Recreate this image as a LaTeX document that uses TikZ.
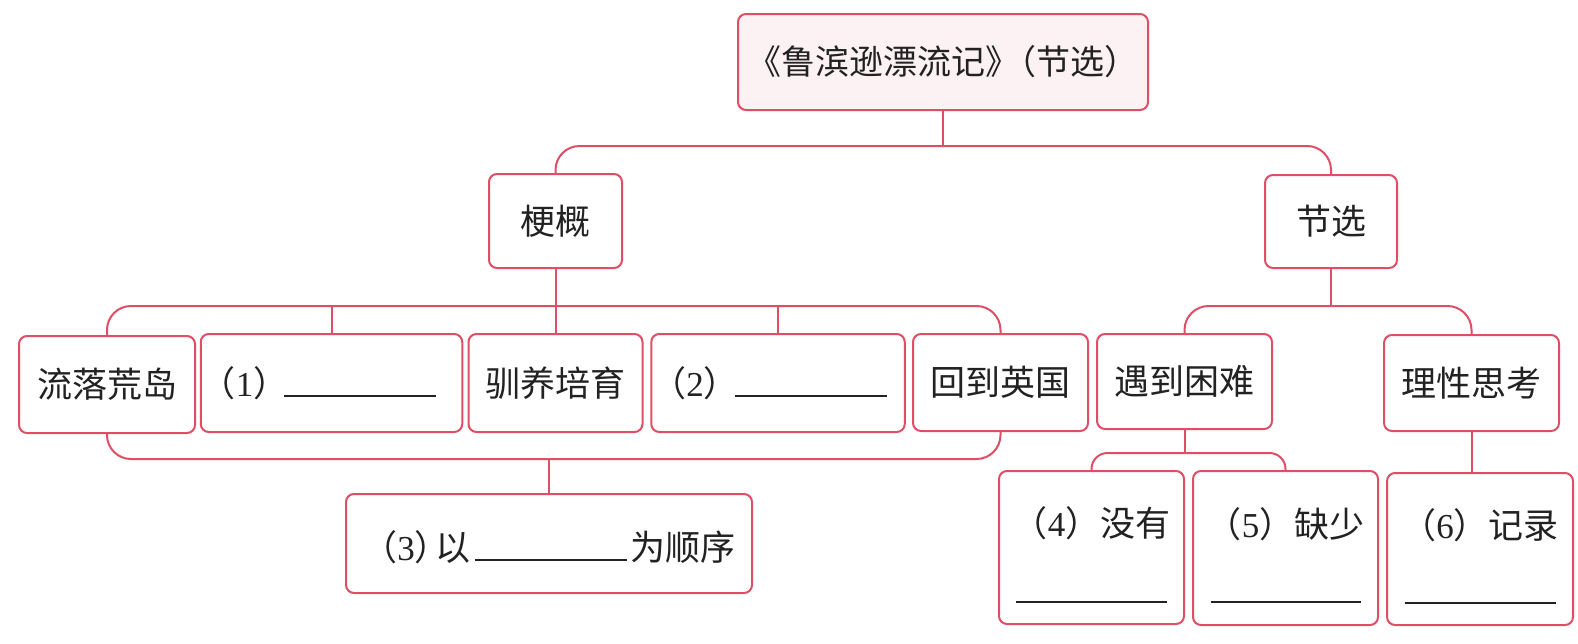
\documentclass[tikz,border=0pt]{standalone}
\usepackage{fontspec}
\setmainfont{Noto Sans CJK SC}
\newfontfamily\numfont{Liberation Serif}
\newcommand\numd[1]{{\numfont #1}}
\definecolor{lc}{HTML}{E04E66}
\definecolor{tfill}{HTML}{FCF1F3}
\definecolor{txt}{HTML}{222222}
\begin{document}
\begin{tikzpicture}[x=0.5pt,y=-0.5pt,
  box/.style={draw=lc, line width=1pt, rounded corners=4pt, inner sep=0pt,
    align=center, text=txt, font=\fontsize{17.5pt}{20pt}\selectfont},
  link/.style={draw=lc, line width=1pt},
  curvelink/.style={link, rounded corners=12pt},
  curvelinksm/.style={link, rounded corners=8pt}]
\fill[white] (0,0) rectangle (1578,643);
\useasboundingbox (0,0) rectangle (1578,643);

% nodes
\node[box, fill=tfill, minimum width=205pt, minimum height=48pt,
  font=\fontsize{17pt}{20pt}\selectfont] (title) at (943,62) {《鲁滨逊漂流记》\kern-0.5em（节选）};
\node[box, minimum width=66.5pt, minimum height=47pt] (gg) at (555.5,221) {梗概};
\node[box, minimum width=66pt, minimum height=46.5pt] (jx) at (1331,221.5) {节选};

\node[box, minimum width=88pt, minimum height=48.5pt] (a1) at (107,384.5) {流落荒岛};
\node[box, minimum width=127.5pt, minimum height=49pt] (a2) at (331.5,383)
  {（\numd{1}）\kern-2pt\rule[-0.5pt]{76pt}{1pt}\hspace*{13pt}};
\node[box, minimum width=87pt, minimum height=49pt] (a3) at (555.5,383) {驯养培育};
\node[box, minimum width=126pt, minimum height=49pt] (a4) at (778,383)
  {（\numd{2}）\kern-2pt\rule[-0.5pt]{76pt}{1pt}\hspace*{9pt}};
\node[box, minimum width=87.5pt, minimum height=48.5pt] (a5) at (1000.5,382.5) {回到英国};

\node[box, minimum width=87.5pt, minimum height=47.5pt] (b1) at (1184.5,381.5) {遇到困难};
\node[box, minimum width=87.5pt, minimum height=48pt] (b2) at (1471.5,383) {理性思考};

\node[box, minimum width=203pt, minimum height=49.5pt] (c3) at (549,543.5)
  {\rule{0pt}{19pt}（\numd{3}）\kern-0.4em 以\kern2pt\rule{76pt}{1pt}\kern2pt 为顺序};

\node[box, minimum width=92.5pt, minimum height=76.5pt] (d4) at (1091.5,547.5)
  {\rule{0pt}{22pt}（\numd{4}）没有\\[13pt]\rule{75.5pt}{1pt}};
\node[box, minimum width=92.5pt, minimum height=77pt] (d5) at (1285.5,548)
  {\rule{0pt}{22pt}（\numd{5}）缺少\\[13pt]\rule{75pt}{1pt}};
\node[box, minimum width=93pt, minimum height=76pt] (d6) at (1480,549)
  {\rule{0pt}{22pt}（\numd{6}）记录\\[13pt]\rule{75.5pt}{1pt}};

% junction points
\coordinate (t1) at (943,146);
\coordinate (t2) at (555.5,306);
\coordinate (t3) at (549,459);
\coordinate (t4) at (1331,306);
\coordinate (t5) at (1184.5,453);

% connectors
\draw[link] (title.south) -- (t1);
\draw[curvelink] (gg.north) |- (t1) -| (jx.north);

\draw[link] (gg.south) -- (a3.north);
\draw[curvelink] (a1.north) |- (t2) -| (a5.north);
\draw[link] (a2.north) -- (a2.north |- t2);
\draw[link] (a4.north) -- (a4.north |- t2);

\draw[curvelink] (a1.south) |- (t3) -| (a5.south);
\draw[link] (t3) -- (c3.north);

\draw[link] (jx.south) -- (t4);
\draw[curvelink] (b1.north) |- (t4) -| (b2.north);

\draw[link] (b1.south) -- (t5);
\draw[curvelinksm] (d4.north) |- (t5) -| (d5.north);
\draw[link] (b2.south) -- (b2.south |- d6.north);
\end{tikzpicture}
\end{document}
